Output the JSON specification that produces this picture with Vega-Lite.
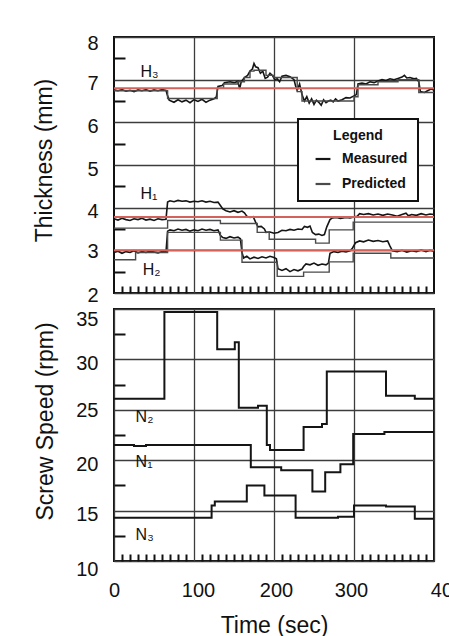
{
  "$schema": "https://vega.github.io/schema/vega-lite/v6.json",
  "padding": {"left": 32, "top": 32, "right": 0, "bottom": 0},
  "background": "white",
  "bounds": "flush",
  "spacing": 16,
  "resolve": {"legend": {"color": "independent"}},
  "config": {
    "font": "Liberation Sans",
    "view": {"stroke": "#111", "strokeWidth": 2},
    "axis": {"labelFont": "Liberation Sans", "titleFont": "Liberation Sans", "labelColor": "#111", "titleColor": "#111", "titleFontWeight": "normal", "labelFontSize": 20, "titleFontSize": 23, "gridColor": "#3c3c3c", "gridWidth": 1.3, "gridOpacity": 1, "tickColor": "#111", "labelFlush": false, "labelOverlap": false}
  },
  "datasets": {
    "meas": [
      {"series":"H3","kind":"Measured","time":0,"value":6.76},{"series":"H3","kind":"Measured","time":5,"value":6.74},{"series":"H3","kind":"Measured","time":10,"value":6.77},{"series":"H3","kind":"Measured","time":15,"value":6.73},{"series":"H3","kind":"Measured","time":20,"value":6.75},{"series":"H3","kind":"Measured","time":25,"value":6.72},{"series":"H3","kind":"Measured","time":30,"value":6.76},{"series":"H3","kind":"Measured","time":35,"value":6.74},{"series":"H3","kind":"Measured","time":40,"value":6.77},{"series":"H3","kind":"Measured","time":45,"value":6.73},{"series":"H3","kind":"Measured","time":50,"value":6.76},{"series":"H3","kind":"Measured","time":55,"value":6.74},{"series":"H3","kind":"Measured","time":60,"value":6.77},{"series":"H3","kind":"Measured","time":65,"value":6.75},{"series":"H3","kind":"Measured","time":67,"value":6.62},{"series":"H3","kind":"Measured","time":69,"value":6.52},{"series":"H3","kind":"Measured","time":75,"value":6.47},{"series":"H3","kind":"Measured","time":80,"value":6.53},{"series":"H3","kind":"Measured","time":85,"value":6.48},{"series":"H3","kind":"Measured","time":90,"value":6.52},{"series":"H3","kind":"Measured","time":95,"value":6.46},{"series":"H3","kind":"Measured","time":100,"value":6.53},{"series":"H3","kind":"Measured","time":105,"value":6.49},{"series":"H3","kind":"Measured","time":110,"value":6.54},{"series":"H3","kind":"Measured","time":115,"value":6.47},{"series":"H3","kind":"Measured","time":120,"value":6.52},{"series":"H3","kind":"Measured","time":125,"value":6.55},{"series":"H3","kind":"Measured","time":128,"value":6.6},{"series":"H3","kind":"Measured","time":130,"value":6.84},{"series":"H3","kind":"Measured","time":135,"value":6.86},{"series":"H3","kind":"Measured","time":138,"value":6.93},{"series":"H3","kind":"Measured","time":145,"value":6.95},{"series":"H3","kind":"Measured","time":150,"value":6.93},{"series":"H3","kind":"Measured","time":155,"value":6.96},{"series":"H3","kind":"Measured","time":157,"value":6.78},{"series":"H3","kind":"Measured","time":159,"value":6.95},{"series":"H3","kind":"Measured","time":163,"value":7.05},{"series":"H3","kind":"Measured","time":167,"value":7.1},{"series":"H3","kind":"Measured","time":170,"value":7.2},{"series":"H3","kind":"Measured","time":173,"value":7.25},{"series":"H3","kind":"Measured","time":175,"value":7.38},{"series":"H3","kind":"Measured","time":177,"value":7.3},{"series":"H3","kind":"Measured","time":180,"value":7.28},{"series":"H3","kind":"Measured","time":183,"value":7.15},{"series":"H3","kind":"Measured","time":186,"value":7.2},{"series":"H3","kind":"Measured","time":189,"value":7.03},{"series":"H3","kind":"Measured","time":192,"value":7.06},{"series":"H3","kind":"Measured","time":195,"value":7.15},{"series":"H3","kind":"Measured","time":198,"value":7.1},{"series":"H3","kind":"Measured","time":201,"value":7.0},{"series":"H3","kind":"Measured","time":204,"value":7.02},{"series":"H3","kind":"Measured","time":207,"value":6.95},{"series":"H3","kind":"Measured","time":210,"value":7.08},{"series":"H3","kind":"Measured","time":215,"value":7.1},{"series":"H3","kind":"Measured","time":220,"value":7.07},{"series":"H3","kind":"Measured","time":225,"value":7.0},{"series":"H3","kind":"Measured","time":227,"value":6.85},{"series":"H3","kind":"Measured","time":229,"value":6.75},{"series":"H3","kind":"Measured","time":232,"value":6.9},{"series":"H3","kind":"Measured","time":235,"value":6.65},{"series":"H3","kind":"Measured","time":238,"value":6.5},{"series":"H3","kind":"Measured","time":241,"value":6.6},{"series":"H3","kind":"Measured","time":244,"value":6.45},{"series":"H3","kind":"Measured","time":247,"value":6.55},{"series":"H3","kind":"Measured","time":250,"value":6.42},{"series":"H3","kind":"Measured","time":253,"value":6.52},{"series":"H3","kind":"Measured","time":256,"value":6.47},{"series":"H3","kind":"Measured","time":259,"value":6.4},{"series":"H3","kind":"Measured","time":262,"value":6.53},{"series":"H3","kind":"Measured","time":265,"value":6.46},{"series":"H3","kind":"Measured","time":268,"value":6.5},{"series":"H3","kind":"Measured","time":271,"value":6.52},{"series":"H3","kind":"Measured","time":274,"value":6.48},{"series":"H3","kind":"Measured","time":277,"value":6.55},{"series":"H3","kind":"Measured","time":280,"value":6.5},{"series":"H3","kind":"Measured","time":285,"value":6.53},{"series":"H3","kind":"Measured","time":290,"value":6.58},{"series":"H3","kind":"Measured","time":295,"value":6.57},{"series":"H3","kind":"Measured","time":300,"value":6.62},{"series":"H3","kind":"Measured","time":303,"value":6.65},{"series":"H3","kind":"Measured","time":305,"value":6.9},{"series":"H3","kind":"Measured","time":310,"value":6.92},{"series":"H3","kind":"Measured","time":315,"value":6.9},{"series":"H3","kind":"Measured","time":320,"value":6.95},{"series":"H3","kind":"Measured","time":325,"value":6.93},{"series":"H3","kind":"Measured","time":330,"value":6.97},{"series":"H3","kind":"Measured","time":335,"value":7.0},{"series":"H3","kind":"Measured","time":340,"value":6.98},{"series":"H3","kind":"Measured","time":345,"value":7.02},{"series":"H3","kind":"Measured","time":350,"value":7.0},{"series":"H3","kind":"Measured","time":355,"value":7.03},{"series":"H3","kind":"Measured","time":360,"value":7.06},{"series":"H3","kind":"Measured","time":363,"value":7.1},{"series":"H3","kind":"Measured","time":366,"value":7.04},{"series":"H3","kind":"Measured","time":370,"value":7.05},{"series":"H3","kind":"Measured","time":375,"value":7.02},{"series":"H3","kind":"Measured","time":378,"value":7.03},{"series":"H3","kind":"Measured","time":381,"value":6.95},{"series":"H3","kind":"Measured","time":383,"value":6.72},{"series":"H3","kind":"Measured","time":388,"value":6.7},{"series":"H3","kind":"Measured","time":392,"value":6.74},{"series":"H3","kind":"Measured","time":396,"value":6.78},{"series":"H3","kind":"Measured","time":400,"value":6.76},
      {"series":"H1","kind":"Measured","time":0,"value":3.74},{"series":"H1","kind":"Measured","time":5,"value":3.71},{"series":"H1","kind":"Measured","time":10,"value":3.75},{"series":"H1","kind":"Measured","time":15,"value":3.72},{"series":"H1","kind":"Measured","time":20,"value":3.7},{"series":"H1","kind":"Measured","time":25,"value":3.74},{"series":"H1","kind":"Measured","time":30,"value":3.72},{"series":"H1","kind":"Measured","time":35,"value":3.75},{"series":"H1","kind":"Measured","time":40,"value":3.71},{"series":"H1","kind":"Measured","time":45,"value":3.73},{"series":"H1","kind":"Measured","time":50,"value":3.7},{"series":"H1","kind":"Measured","time":55,"value":3.74},{"series":"H1","kind":"Measured","time":60,"value":3.72},{"series":"H1","kind":"Measured","time":65,"value":3.73},{"series":"H1","kind":"Measured","time":67,"value":4.13},{"series":"H1","kind":"Measured","time":70,"value":4.16},{"series":"H1","kind":"Measured","time":75,"value":4.14},{"series":"H1","kind":"Measured","time":80,"value":4.17},{"series":"H1","kind":"Measured","time":85,"value":4.15},{"series":"H1","kind":"Measured","time":90,"value":4.16},{"series":"H1","kind":"Measured","time":95,"value":4.13},{"series":"H1","kind":"Measured","time":100,"value":4.15},{"series":"H1","kind":"Measured","time":105,"value":4.14},{"series":"H1","kind":"Measured","time":110,"value":4.16},{"series":"H1","kind":"Measured","time":115,"value":4.13},{"series":"H1","kind":"Measured","time":120,"value":4.15},{"series":"H1","kind":"Measured","time":125,"value":4.12},{"series":"H1","kind":"Measured","time":130,"value":4.13},{"series":"H1","kind":"Measured","time":133,"value":4.05},{"series":"H1","kind":"Measured","time":136,"value":3.97},{"series":"H1","kind":"Measured","time":140,"value":3.93},{"series":"H1","kind":"Measured","time":145,"value":3.9},{"series":"H1","kind":"Measured","time":150,"value":3.93},{"series":"H1","kind":"Measured","time":155,"value":3.89},{"series":"H1","kind":"Measured","time":160,"value":3.92},{"series":"H1","kind":"Measured","time":163,"value":3.88},{"series":"H1","kind":"Measured","time":166,"value":3.8},{"series":"H1","kind":"Measured","time":170,"value":3.77},{"series":"H1","kind":"Measured","time":174,"value":3.79},{"series":"H1","kind":"Measured","time":177,"value":3.66},{"series":"H1","kind":"Measured","time":180,"value":3.55},{"series":"H1","kind":"Measured","time":184,"value":3.56},{"series":"H1","kind":"Measured","time":188,"value":3.5},{"series":"H1","kind":"Measured","time":190,"value":3.42},{"series":"H1","kind":"Measured","time":195,"value":3.43},{"series":"H1","kind":"Measured","time":200,"value":3.4},{"series":"H1","kind":"Measured","time":205,"value":3.42},{"series":"H1","kind":"Measured","time":210,"value":3.47},{"series":"H1","kind":"Measured","time":215,"value":3.46},{"series":"H1","kind":"Measured","time":220,"value":3.49},{"series":"H1","kind":"Measured","time":225,"value":3.47},{"series":"H1","kind":"Measured","time":230,"value":3.5},{"series":"H1","kind":"Measured","time":235,"value":3.49},{"series":"H1","kind":"Measured","time":238,"value":3.56},{"series":"H1","kind":"Measured","time":242,"value":3.54},{"series":"H1","kind":"Measured","time":245,"value":3.57},{"series":"H1","kind":"Measured","time":248,"value":3.42},{"series":"H1","kind":"Measured","time":252,"value":3.37},{"series":"H1","kind":"Measured","time":256,"value":3.38},{"series":"H1","kind":"Measured","time":260,"value":3.35},{"series":"H1","kind":"Measured","time":263,"value":3.37},{"series":"H1","kind":"Measured","time":266,"value":3.55},{"series":"H1","kind":"Measured","time":270,"value":3.72},{"series":"H1","kind":"Measured","time":273,"value":3.76},{"series":"H1","kind":"Measured","time":278,"value":3.77},{"series":"H1","kind":"Measured","time":283,"value":3.75},{"series":"H1","kind":"Measured","time":290,"value":3.77},{"series":"H1","kind":"Measured","time":295,"value":3.76},{"series":"H1","kind":"Measured","time":300,"value":3.78},{"series":"H1","kind":"Measured","time":304,"value":3.8},{"series":"H1","kind":"Measured","time":307,"value":3.86},{"series":"H1","kind":"Measured","time":312,"value":3.84},{"series":"H1","kind":"Measured","time":318,"value":3.86},{"series":"H1","kind":"Measured","time":324,"value":3.83},{"series":"H1","kind":"Measured","time":330,"value":3.85},{"series":"H1","kind":"Measured","time":336,"value":3.82},{"series":"H1","kind":"Measured","time":342,"value":3.85},{"series":"H1","kind":"Measured","time":348,"value":3.83},{"series":"H1","kind":"Measured","time":354,"value":3.8},{"series":"H1","kind":"Measured","time":360,"value":3.84},{"series":"H1","kind":"Measured","time":365,"value":3.87},{"series":"H1","kind":"Measured","time":368,"value":3.81},{"series":"H1","kind":"Measured","time":372,"value":3.84},{"series":"H1","kind":"Measured","time":378,"value":3.82},{"series":"H1","kind":"Measured","time":384,"value":3.86},{"series":"H1","kind":"Measured","time":390,"value":3.83},{"series":"H1","kind":"Measured","time":395,"value":3.85},{"series":"H1","kind":"Measured","time":400,"value":3.84},
      {"series":"H2","kind":"Measured","time":0,"value":2.95},{"series":"H2","kind":"Measured","time":5,"value":2.98},{"series":"H2","kind":"Measured","time":10,"value":2.93},{"series":"H2","kind":"Measured","time":15,"value":2.97},{"series":"H2","kind":"Measured","time":20,"value":2.95},{"series":"H2","kind":"Measured","time":25,"value":2.99},{"series":"H2","kind":"Measured","time":30,"value":2.94},{"series":"H2","kind":"Measured","time":35,"value":2.97},{"series":"H2","kind":"Measured","time":40,"value":2.95},{"series":"H2","kind":"Measured","time":45,"value":2.98},{"series":"H2","kind":"Measured","time":50,"value":2.96},{"series":"H2","kind":"Measured","time":55,"value":2.94},{"series":"H2","kind":"Measured","time":60,"value":2.97},{"series":"H2","kind":"Measured","time":65,"value":2.96},{"series":"H2","kind":"Measured","time":67,"value":3.45},{"series":"H2","kind":"Measured","time":70,"value":3.48},{"series":"H2","kind":"Measured","time":75,"value":3.46},{"series":"H2","kind":"Measured","time":80,"value":3.5},{"series":"H2","kind":"Measured","time":85,"value":3.47},{"series":"H2","kind":"Measured","time":90,"value":3.49},{"series":"H2","kind":"Measured","time":95,"value":3.45},{"series":"H2","kind":"Measured","time":100,"value":3.48},{"series":"H2","kind":"Measured","time":105,"value":3.46},{"series":"H2","kind":"Measured","time":110,"value":3.5},{"series":"H2","kind":"Measured","time":115,"value":3.47},{"series":"H2","kind":"Measured","time":120,"value":3.49},{"series":"H2","kind":"Measured","time":125,"value":3.46},{"series":"H2","kind":"Measured","time":130,"value":3.48},{"series":"H2","kind":"Measured","time":133,"value":3.35},{"series":"H2","kind":"Measured","time":136,"value":3.3},{"series":"H2","kind":"Measured","time":140,"value":3.28},{"series":"H2","kind":"Measured","time":145,"value":3.32},{"series":"H2","kind":"Measured","time":150,"value":3.29},{"series":"H2","kind":"Measured","time":155,"value":3.31},{"series":"H2","kind":"Measured","time":158,"value":3.27},{"series":"H2","kind":"Measured","time":160,"value":2.95},{"series":"H2","kind":"Measured","time":162,"value":2.82},{"series":"H2","kind":"Measured","time":166,"value":2.86},{"series":"H2","kind":"Measured","time":170,"value":2.8},{"series":"H2","kind":"Measured","time":175,"value":2.84},{"series":"H2","kind":"Measured","time":180,"value":2.81},{"series":"H2","kind":"Measured","time":185,"value":2.85},{"series":"H2","kind":"Measured","time":190,"value":2.82},{"series":"H2","kind":"Measured","time":195,"value":2.86},{"series":"H2","kind":"Measured","time":200,"value":2.83},{"series":"H2","kind":"Measured","time":203,"value":2.8},{"series":"H2","kind":"Measured","time":205,"value":2.57},{"series":"H2","kind":"Measured","time":210,"value":2.53},{"series":"H2","kind":"Measured","time":215,"value":2.57},{"series":"H2","kind":"Measured","time":220,"value":2.5},{"series":"H2","kind":"Measured","time":225,"value":2.55},{"series":"H2","kind":"Measured","time":230,"value":2.52},{"series":"H2","kind":"Measured","time":235,"value":2.56},{"series":"H2","kind":"Measured","time":237,"value":2.62},{"series":"H2","kind":"Measured","time":240,"value":2.68},{"series":"H2","kind":"Measured","time":245,"value":2.66},{"series":"H2","kind":"Measured","time":250,"value":2.7},{"series":"H2","kind":"Measured","time":255,"value":2.65},{"series":"H2","kind":"Measured","time":260,"value":2.68},{"series":"H2","kind":"Measured","time":265,"value":2.66},{"series":"H2","kind":"Measured","time":268,"value":2.7},{"series":"H2","kind":"Measured","time":270,"value":2.93},{"series":"H2","kind":"Measured","time":275,"value":2.97},{"series":"H2","kind":"Measured","time":280,"value":2.95},{"series":"H2","kind":"Measured","time":285,"value":2.98},{"series":"H2","kind":"Measured","time":290,"value":2.96},{"series":"H2","kind":"Measured","time":295,"value":2.99},{"series":"H2","kind":"Measured","time":298,"value":3.05},{"series":"H2","kind":"Measured","time":302,"value":3.18},{"series":"H2","kind":"Measured","time":307,"value":3.22},{"series":"H2","kind":"Measured","time":312,"value":3.2},{"series":"H2","kind":"Measured","time":318,"value":3.24},{"series":"H2","kind":"Measured","time":324,"value":3.21},{"series":"H2","kind":"Measured","time":330,"value":3.23},{"series":"H2","kind":"Measured","time":336,"value":3.2},{"series":"H2","kind":"Measured","time":342,"value":3.22},{"series":"H2","kind":"Measured","time":345,"value":3.1},{"series":"H2","kind":"Measured","time":348,"value":2.99},{"series":"H2","kind":"Measured","time":354,"value":2.97},{"series":"H2","kind":"Measured","time":360,"value":3.0},{"series":"H2","kind":"Measured","time":366,"value":2.96},{"series":"H2","kind":"Measured","time":372,"value":2.99},{"series":"H2","kind":"Measured","time":378,"value":2.97},{"series":"H2","kind":"Measured","time":384,"value":3.01},{"series":"H2","kind":"Measured","time":390,"value":2.97},{"series":"H2","kind":"Measured","time":395,"value":3.0},{"series":"H2","kind":"Measured","time":400,"value":2.98}
    ],
    "pred": [
      {"series":"H3p","kind":"Predicted","time":0,"value":6.74},{"series":"H3p","kind":"Predicted","time":67,"value":6.56},{"series":"H3p","kind":"Predicted","time":129,"value":6.8},{"series":"H3p","kind":"Predicted","time":137,"value":6.9},{"series":"H3p","kind":"Predicted","time":155,"value":6.95},{"series":"H3p","kind":"Predicted","time":163,"value":7.05},{"series":"H3p","kind":"Predicted","time":170,"value":7.2},{"series":"H3p","kind":"Predicted","time":175,"value":7.22},{"series":"H3p","kind":"Predicted","time":190,"value":7.1},{"series":"H3p","kind":"Predicted","time":200,"value":7.05},{"series":"H3p","kind":"Predicted","time":229,"value":6.72},{"series":"H3p","kind":"Predicted","time":235,"value":6.5},{"series":"H3p","kind":"Predicted","time":300,"value":6.6},{"series":"H3p","kind":"Predicted","time":305,"value":6.88},{"series":"H3p","kind":"Predicted","time":330,"value":6.95},{"series":"H3p","kind":"Predicted","time":355,"value":7.0},{"series":"H3p","kind":"Predicted","time":381,"value":6.7},{"series":"H3p","kind":"Predicted","time":400,"value":6.7},
      {"series":"H1p","kind":"Predicted","time":0,"value":3.52},{"series":"H1p","kind":"Predicted","time":67,"value":3.7},{"series":"H1p","kind":"Predicted","time":133,"value":3.63},{"series":"H1p","kind":"Predicted","time":179,"value":3.42},{"series":"H1p","kind":"Predicted","time":194,"value":3.26},{"series":"H1p","kind":"Predicted","time":252,"value":3.17},{"series":"H1p","kind":"Predicted","time":269,"value":3.48},{"series":"H1p","kind":"Predicted","time":299,"value":3.66},{"series":"H1p","kind":"Predicted","time":400,"value":3.66},
      {"series":"H2p","kind":"Predicted","time":0,"value":2.78},{"series":"H2p","kind":"Predicted","time":27,"value":2.95},{"series":"H2p","kind":"Predicted","time":67,"value":3.42},{"series":"H2p","kind":"Predicted","time":133,"value":3.24},{"series":"H2p","kind":"Predicted","time":160,"value":2.72},{"series":"H2p","kind":"Predicted","time":204,"value":2.39},{"series":"H2p","kind":"Predicted","time":237,"value":2.49},{"series":"H2p","kind":"Predicted","time":269,"value":2.73},{"series":"H2p","kind":"Predicted","time":299,"value":2.93},{"series":"H2p","kind":"Predicted","time":346,"value":2.82},{"series":"H2p","kind":"Predicted","time":400,"value":2.82}
    ],
    "setpoints": [{"level": 6.8}, {"level": 3.78}, {"level": 3.0}],
    "hlabels": [{"label": "H₃", "time": 33, "value": 7.18}, {"label": "H₁", "time": 33, "value": 4.32}, {"label": "H₂", "time": 36, "value": 2.54}],
    "speed": [
      {"series":"N2","time":0,"value":26.1},{"series":"N2","time":63,"value":34.7},{"series":"N2","time":129,"value":31.0},{"series":"N2","time":151,"value":31.7},{"series":"N2","time":156,"value":25.2},{"series":"N2","time":180,"value":25.4},{"series":"N2","time":191,"value":21.5},{"series":"N2","time":195,"value":21.0},{"series":"N2","time":237,"value":23.3},{"series":"N2","time":260,"value":23.6},{"series":"N2","time":266,"value":28.8},{"series":"N2","time":340,"value":26.4},{"series":"N2","time":376,"value":26.1},{"series":"N2","time":400,"value":26.1},
      {"series":"N1","time":0,"value":21.5},{"series":"N1","time":25,"value":21.4},{"series":"N1","time":40,"value":21.5},{"series":"N1","time":171,"value":19.3},{"series":"N1","time":209,"value":19.0},{"series":"N1","time":248,"value":16.9},{"series":"N1","time":264,"value":18.8},{"series":"N1","time":283,"value":19.6},{"series":"N1","time":299,"value":22.6},{"series":"N1","time":338,"value":22.8},{"series":"N1","time":400,"value":22.8},
      {"series":"N3","time":0,"value":14.3},{"series":"N3","time":122,"value":15.5},{"series":"N3","time":126,"value":15.9},{"series":"N3","time":166,"value":17.5},{"series":"N3","time":188,"value":16.5},{"series":"N3","time":227,"value":14.3},{"series":"N3","time":280,"value":14.4},{"series":"N3","time":300,"value":15.5},{"series":"N3","time":340,"value":15.4},{"series":"N3","time":376,"value":14.2},{"series":"N3","time":400,"value":14.2}
    ],
    "nlabels": [{"label": "N₂", "time": 27, "value": 24.25}, {"label": "N₁", "time": 27, "value": 19.8}, {"label": "N₃", "time": 27, "value": 12.55}]
  },
  "vconcat": [
    {
      "width": 320,
      "height": 256,
      "resolve": {"axis": {"x": "independent", "y": "independent"}},
      "layer": [
        {
          "data": {"name": "meas"},
          "mark": {"type": "line", "strokeWidth": 1.6, "interpolate": "linear"},
          "encoding": {
            "x": {"field": "time", "type": "quantitative", "scale": {"domain": [0, 400], "nice": false, "zero": false},
              "axis": {"orient": "bottom", "values": [100, 200, 300], "grid": true, "labels": false, "ticks": false, "domain": false, "title": null}},
            "y": {"field": "value", "type": "quantitative", "scale": {"domain": [2, 8], "nice": false, "zero": false},
              "axis": {"orient": "left", "values": [2, 3, 4, 5, 6, 7, 8], "grid": true, "ticks": false, "tickSize": 0, "domain": false, "labelPadding": 16, "title": "Thickness (mm)", "titlePadding": 30, "titleY": 123,
                "labelOffset": {"expr": "datum.value == 8 ? 6 : datum.value == 3 ? 1 : datum.value == 2 ? 2 : 4"}}},
            "color": {"field": "kind", "type": "nominal", "scale": {"domain": ["Measured", "Predicted"], "range": ["#151515", "#4a4a4a"]},
              "legend": {"orient": "none", "legendX": 184, "legendY": 82, "title": "Legend", "titleFontSize": 14, "titleFontWeight": "bold", "titleAnchor": "middle", "titleAlign": "center", "titlePadding": 7, "titleColor": "#111",
                "labelFontSize": 14, "labelFontWeight": "bold", "labelColor": "#111", "labelExpr": "datum.label + '          '",
                "symbolType": "stroke", "symbolStrokeWidth": 2.2, "symbolSize": 220, "symbolOffset": 6, "labelOffset": 10,
                "padding": 10, "rowPadding": 9, "strokeColor": "#111", "fillColor": "white",
                "encode": {"legend": {"update": {"strokeWidth": {"value": 2}}}}}},
            "detail": {"field": "series"}
          }
        },
        {
          "data": {"name": "pred"},
          "mark": {"type": "line", "strokeWidth": 1.4, "interpolate": "step-after"},
          "encoding": {
            "x": {"field": "time", "type": "quantitative", "axis": null},
            "y": {"field": "value", "type": "quantitative", "axis": null},
            "color": {"field": "kind", "type": "nominal"},
            "detail": {"field": "series"}
          }
        },
        {
          "data": {"name": "setpoints"},
          "mark": {"type": "rule", "color": "#d4625a", "strokeWidth": 2},
          "encoding": {"y": {"field": "level", "type": "quantitative", "axis": null}}
        },
        {
          "data": {"name": "hlabels"},
          "mark": {"type": "text", "align": "left", "baseline": "middle", "fontSize": 16, "font": "Liberation Sans", "color": "#111"},
          "encoding": {
            "x": {"field": "time", "type": "quantitative",
              "axis": {"orient": "bottom", "values": [10,20,30,40,50,60,70,80,90,110,120,130,140,150,160,170,180,190,210,220,230,240,250,260,270,280,290,310,320,330,340,350,360,370,380,390], "offset": -7, "tickSize": 7, "tickWidth": 2, "ticks": true, "labels": false, "domain": false, "grid": false, "title": null}},
            "y": {"field": "value", "type": "quantitative",
              "axis": {"orient": "left", "values": [2.5, 3.5, 4.5, 5.5, 6.5, 7.5], "offset": -11, "tickSize": 11, "tickWidth": 2, "ticks": true, "labels": false, "domain": false, "grid": false, "title": null}},
            "text": {"field": "label"}
          }
        }
      ]
    },
    {
      "width": 320,
      "height": 252,
      "resolve": {"axis": {"x": "independent", "y": "independent"}},
      "layer": [
        {
          "data": {"name": "speed"},
          "mark": {"type": "line", "strokeWidth": 2, "interpolate": "step-after", "color": "#151515"},
          "encoding": {
            "x": {"field": "time", "type": "quantitative", "scale": {"domain": [0, 400], "nice": false, "zero": false},
              "axis": {"orient": "bottom", "values": [0, 100, 200, 300, 400], "grid": true, "ticks": false, "tickSize": 0, "domain": false, "labelPadding": 19, "title": "Time (sec)", "titlePadding": 14,
                "labelOffset": {"expr": "datum.value == 100 ? 4 : datum.value == 200 ? 2 : datum.value == 300 ? -3 : datum.value == 400 ? 13 : 0"}}},
            "y": {"field": "value", "type": "quantitative", "scale": {"domain": [10, 35], "nice": false, "zero": false},
              "axis": {"orient": "left", "values": [10, 15, 20, 25, 30, 35], "grid": true, "ticks": false, "tickSize": 0, "domain": false, "labelPadding": 16, "title": "Screw Speed (rpm)", "titlePadding": 18, "titleY": 112,
                "labelOffset": {"expr": "datum.value == 35 ? 10 : datum.value == 10 ? 8 : datum.value == 25 ? 1 : 4"}}},
            "detail": {"field": "series"}
          }
        },
        {
          "data": {"name": "nlabels"},
          "mark": {"type": "text", "align": "left", "baseline": "middle", "fontSize": 16, "font": "Liberation Sans", "color": "#111"},
          "encoding": {
            "x": {"field": "time", "type": "quantitative",
              "axis": {"orient": "bottom", "values": [10,20,30,40,50,60,70,80,90,110,120,130,140,150,160,170,180,190,210,220,230,240,250,260,270,280,290,310,320,330,340,350,360,370,380,390], "offset": -7, "tickSize": 7, "tickWidth": 2, "ticks": true, "labels": false, "domain": false, "grid": false, "title": null}},
            "y": {"field": "value", "type": "quantitative",
              "axis": {"orient": "left", "values": [12.5, 17.5, 22.5, 27.5, 32.5], "offset": -11, "tickSize": 11, "tickWidth": 2, "ticks": true, "labels": false, "domain": false, "grid": false, "title": null}},
            "text": {"field": "label"}
          }
        }
      ]
    }
  ]
}
